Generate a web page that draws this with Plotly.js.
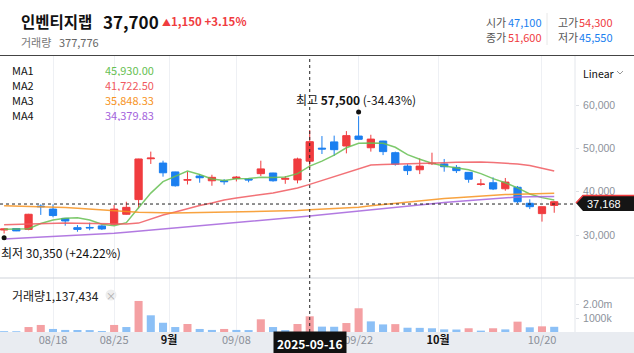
<!DOCTYPE html>
<html><head><meta charset="utf-8">
<script src="https://cdn.plot.ly/plotly-3.0.1.min.js"></script>
<style>html,body{margin:0;padding:0;background:#fff;overflow:hidden}#chart{width:634px;height:353px}</style>
</head><body><div id="chart"></div>
<script>
const dates = ['2025-08-11','2025-08-12','2025-08-13','2025-08-14','2025-08-18','2025-08-19','2025-08-20','2025-08-21','2025-08-22',
'2025-08-25','2025-08-26','2025-08-27','2025-08-28','2025-08-29','2025-09-01','2025-09-02','2025-09-03','2025-09-04','2025-09-05',
'2025-09-08','2025-09-09','2025-09-10','2025-09-11','2025-09-12','2025-09-15','2025-09-16','2025-09-17','2025-09-18','2025-09-19',
'2025-09-22','2025-09-23','2025-09-24','2025-09-25','2025-09-26','2025-09-29','2025-09-30','2025-10-01','2025-10-02','2025-10-10',
'2025-10-13','2025-10-14','2025-10-15','2025-10-16','2025-10-17','2025-10-20','2025-10-21'];
const openP  = [31150,31500,31300,36700,36000,33850,31700,31750,32100,32500,34800,38200,47650,46650,44600,42700,43650,42550,42550,43100,42950,44200,44350,42900,42750,47100,50100,51550,50600,52900,50200,51750,49050,45950,45100,46500,46450,45650,44500,41700,42100,40700,41050,37350,34950,36850];
const highP  = [31500,31550,34900,37100,37100,33900,32300,32850,32300,36950,37700,47650,49300,47200,44650,44600,44100,43950,42950,43650,43200,47200,44400,43650,47900,54300,52900,53000,54050,57500,53200,51800,49300,46400,47750,49050,47600,46200,44550,42950,43350,43200,41350,38250,36550,37900];
const lowP   = [30350,30900,31100,34650,34100,32150,30750,31100,31150,32400,34700,36200,46450,43500,41200,41700,42100,41400,41650,42400,42200,43650,42350,41850,41950,45550,48750,48300,48900,52000,49300,48500,46050,43900,44100,46200,44650,44350,42100,41400,40400,40250,37350,36000,33100,35150];
const closeP = [31400,30950,34800,36550,34500,33250,31300,31650,31400,36000,36400,47600,47800,44400,41400,42800,43250,43350,42350,43400,42750,45300,42550,43100,47600,51600,49900,49750,53000,52150,52200,49300,46400,44900,45950,46600,45800,44900,42900,41800,40650,42250,37700,36550,36550,37700];
const volume = [60000,55000,360000,510000,220000,150000,145000,140000,70000,510000,360000,2250000,1210000,670000,360000,580000,220000,150000,220000,150000,140000,920000,360000,140000,580000,1137434,390000,380000,650000,1720000,770000,550000,570000,310000,300000,270000,190000,180000,270000,100000,270000,190000,750000,340000,410000,377776];
const ma1 = [31320,31400,31460,32650,33450,33900,34000,33450,32480,32150,32850,36300,39700,42350,43600,44800,44000,42950,42600,43000,43070,43350,43300,43450,44200,45930,47100,48500,50200,51250,51300,51250,50300,48600,47550,46600,45950,45550,45100,44200,43050,42100,40900,39500,38650,38100];
const ma2 = [32400,32500,32600,32700,32750,32750,32700,32650,32550,32500,32550,32750,33700,34630,35320,36130,36830,37400,38100,38560,38900,39260,39720,40300,40880,41722.5,42620,43660,44580,45390,46200,46320,46370,46430,46480,46670,46730,46830,46900,46900,46780,46670,46430,46090,45510,44810];
const ma3 = [36750,36700,36650,36550,36450,36350,36200,36050,35850,35650,35450,35250,35150,35100,35100,35150,35200,35250,35300,35350,35400,35450,35500,35550,35650,35848.33,36000,36120,36250,36450,36750,37050,37400,37700,37950,38200,38450,38650,38850,39050,39200,39350,39450,39550,39600,39650];
const ma4 = [29050,29190,29330,29470,29610,29750,29890,30030,30170,30400,30640,30880,31120,31360,31610,31860,32120,32380,32640,32900,33150,33400,33650,33900,34140,34379.83,34680,34980,35280,35580,35880,36180,36480,36760,37050,37330,37550,37760,37980,38200,38420,38640,38800,38850,38880,38900];
const maNames = ['MA1','MA2','MA3','MA4'];
const stockName = '인벤티지랩';
const focusDate = '2025-09-16';
const crossPrice = 37168;
const xTickDates = ['2025-08-18','2025-08-25','2025-09-01','2025-09-08','2025-09-22','2025-10-01','2025-10-20'];
const xTickLabels = ['08/18','08/25','9월','09/08','09/22','10월','10/20'];
const priceTicks = [30000,40000,50000,60000];
const volTicks = [1000000,2000000];
const volTickLabels = ['1000k','2.00m'];

const W=634,H=353;
const px=x=>x/W, py=y=>(H-y)/H;
const RED='#f03c3f', BLUE='#1b7ff0';
const FONT='"Noto Sans CJK KR","Noto Sans",sans-serif';
const NUMFONT='"Liberation Sans",Arial,sans-serif';
const fmt=v=>Math.round(v).toLocaleString('en-US');
const fmt2=v=>v.toLocaleString('en-US',{minimumFractionDigits:2,maximumFractionDigits:2});
const idx = dates.map((d,i)=>i);
const n = dates.length;
const fi = dates.indexOf(focusDate);
const tickIdx = xTickDates.map((d,k)=>{const i=dates.indexOf(d); return xTickLabels[k].endsWith('월')? i-0.5 : i;});
const tickTxt = xTickLabels.map(t=>t.endsWith('월')?'<b><span style="color:#111">'+t+'</span></b>':t);
const maColors=['#66c052','#f0595f','#f7931e','#a463dc'];
const maVals=[ma1,ma2,ma3,ma4];

const traces=[];
maVals.forEach((m,k)=>traces.push({type:'scatter',mode:'lines',x:idx,y:m,xaxis:'x',yaxis:'y',line:{color:maColors[k],width:1.5},opacity:0.85,hoverinfo:'skip'}));
traces.push({type:'candlestick',x:idx,open:openP,high:highP,low:lowP,close:closeP,xaxis:'x',yaxis:'y',
  increasing:{line:{color:RED,width:1},fillcolor:RED},decreasing:{line:{color:BLUE,width:1},fillcolor:BLUE},whiskerwidth:0,hoverinfo:'skip'});
const volColors = volume.map((v,i)=> i>0 && v>volume[i-1] ? '#f4a0a3' : '#8cc0f6');
traces.push({type:'bar',x:idx,y:volume,xaxis:'x2',yaxis:'y2',marker:{color:volColors},width:0.66,hoverinfo:'skip'});

const last=n-1;
const chg = closeP[last]-closeP[last-1];
const chgPct = chg/closeP[last-1]*100;
const hiI = highP.indexOf(Math.max(...highP));
const loI = lowP.indexOf(Math.min(...lowP));
const hiPct = (closeP[last]/highP[hiI]-1)*100;
const loPct = (closeP[last]/lowP[loI]-1)*100;
const prevC = closeP[fi-1];
const colOf = v => v>=prevC?RED:BLUE;

const ann=[];
const A=(o)=>ann.push(Object.assign({xref:'paper',yref:'paper',showarrow:false,xanchor:'left',yanchor:'middle',font:{family:FONT,size:11,color:'#222'}},o));
A({x:px(19),y:py(21),text:'<b>'+stockName+'</b>',font:{family:FONT,size:15.5,color:'#111'}});
A({x:px(101),y:py(21),text:'<b>'+fmt(closeP[last])+'</b>',font:{family:FONT,size:17,color:'#111'}});
A({x:px(160),y:py(21),text:'<span style="font-size:9px">▲</span><b>'+fmt(chg)+' +'+chgPct.toFixed(2)+'%</b>',font:{family:FONT,size:11.5,color:RED}});
A({x:px(19),y:py(42),text:'거래량',font:{family:FONT,size:11,color:'#777'}});
A({x:px(57),y:py(42),text:fmt(volume[last]),font:{family:FONT,size:11,color:'#666'}});
A({x:px(484),y:py(22),text:'시가',font:{family:FONT,size:11,color:'#555'}});
A({x:px(506),y:py(22),text:fmt(openP[fi]),font:{family:FONT,size:11,color:colOf(openP[fi])}});
A({x:px(484),y:py(37),text:'종가',font:{family:FONT,size:11,color:'#555'}});
A({x:px(506),y:py(37),text:fmt(closeP[fi]),font:{family:FONT,size:11,color:colOf(closeP[fi])}});
A({x:px(556),y:py(22),text:'고가',font:{family:FONT,size:11,color:'#555'}});
A({x:px(577),y:py(22),text:fmt(highP[fi]),font:{family:FONT,size:11,color:colOf(highP[fi])}});
A({x:px(556),y:py(37),text:'저가',font:{family:FONT,size:11,color:'#555'}});
A({x:px(577),y:py(37),text:fmt(lowP[fi]),font:{family:FONT,size:11,color:colOf(lowP[fi])}});
maNames.forEach((nm,k)=>{
  const yy=py(70+14.8*k);
  A({x:px(10),y:yy,text:nm,height:13,font:{family:FONT,size:11,color:'#111'}});
  A({x:px(156),y:yy,xanchor:'right',height:13,text:fmt2(maVals[k][fi]),font:{family:FONT,size:11,color:maColors[k]}});
});
A({x:px(581),y:py(73),text:'Linear',font:{family:FONT,size:10.5,color:'#111'}});
A({x:px(10),y:py(295),text:'거래량'+fmt(volume[fi]),font:{family:FONT,size:12,color:'#222'}});
A({x:px(111),y:py(295),xanchor:'center',text:'×',font:{family:FONT,size:10,color:'#aaa'}});
A({x:px(585),y:py(203.5),text:fmt(crossPrice),height:11,font:{family:NUMFONT,size:11,color:'#fff'}});
ann.push({xref:'x',yref:'y',x:hiI,y:highP[hiI],showarrow:false,xanchor:'center',yanchor:'middle',xshift:-3,yshift:17,
  text:'최고 <b>'+fmt(highP[hiI])+'</b> ('+hiPct.toFixed(2)+'%)',font:{family:FONT,size:12,color:'#111'}});
ann.push({xref:'x',yref:'y',x:loI,y:lowP[loI],showarrow:false,xanchor:'left',yanchor:'middle',xshift:-5,yshift:-19,
  text:'최저 '+fmt(lowP[loI])+' (+'+loPct.toFixed(2)+'%)',font:{family:FONT,size:12,color:'#111'}});
ann.push({xref:'x2',yref:'paper',x:fi,y:py(343),showarrow:false,xanchor:'center',yanchor:'middle',
  text:'<b>'+focusDate+'</b>',bgcolor:'#111',borderpad:3,font:{family:FONT,size:12,color:'#fff'}});

const shapes=[
 {type:'rect',xref:'paper',yref:'paper',x0:0,x1:1,y0:0,y1:py(332),fillcolor:'#e9ecf1',line:{width:0},layer:'below'},
 {type:'line',xref:'paper',yref:'paper',x0:0,x1:1,y0:py(55.5),y1:py(55.5),line:{color:'#444',width:1}},
 {type:'line',xref:'paper',yref:'paper',x0:0,x1:1,y0:py(278),y1:py(278),line:{color:'#cfd3da',width:1}},
 {type:'line',xref:'paper',yref:'paper',x0:px(575),x1:px(575),y0:py(332),y1:py(56),line:{color:'#e3e6eb',width:1}},
 {type:'line',xref:'paper',yref:'paper',x0:px(547),x1:px(547),y0:py(13),y1:py(45),line:{color:'#e8e8e8',width:1}},
 {type:'line',xref:'x',yref:'paper',x0:fi,x1:fi,y0:py(332),y1:py(57),line:{color:'#222',width:1,dash:'dot'}},
 {type:'line',xref:'paper',yref:'y',x0:0,x1:px(575),y0:crossPrice,y1:crossPrice,line:{color:'#222',width:1,dash:'dot'}},
 {type:'path',xref:'paper',yref:'paper',path:`M${px(576)},${py(203)} L${px(583)},${py(195)} L${px(634)},${py(195)} L${px(634)},${py(211)} L${px(583)},${py(211)} Z`,fillcolor:'#151515',line:{width:0}},
 {type:'path',xref:'paper',yref:'paper',path:`M${px(576)},${py(203)} L${px(583)},${py(195.5)} L${px(634)},${py(195.5)}`,line:{color:RED,width:1.5}},
 {type:'path',xref:'paper',yref:'paper',path:`M${px(617)},${py(71)} L${px(620)},${py(74)} L${px(623)},${py(71)}`,line:{color:'#999',width:1}},
 {type:'circle',xref:'paper',yref:'paper',x0:px(105.5),x1:px(116.5),y0:py(300.5),y1:py(289.5),fillcolor:'#eeeeee',line:{width:0},layer:'below'},
 {type:'circle',xref:'x',yref:'y',xsizemode:'pixel',ysizemode:'pixel',xanchor:hiI,yanchor:highP[hiI],x0:-2.5,x1:2.5,y0:1.7,y1:6.7,fillcolor:'#111',line:{width:0}},
 {type:'circle',xref:'x',yref:'y',xsizemode:'pixel',ysizemode:'pixel',xanchor:loI,yanchor:lowP[loI],x0:-2.5,x1:2.5,y0:-6.7,y1:-1.7,fillcolor:'#111',line:{width:0}}
];

const xr=[-0.335,46.7];
const layout={width:W,height:H,margin:{l:0,r:0,t:0,b:0},paper_bgcolor:'#fff',plot_bgcolor:'#fff',showlegend:false,hovermode:false,
 boxgap:0.3,boxgroupgap:0.15,bargap:0.3,
 font:{family:FONT},
 xaxis:{domain:[0,575/W],range:xr,anchor:'y',showticklabels:false,tickvals:tickIdx,showgrid:true,gridcolor:'#eef0f4',zeroline:false,showline:false,ticks:'',rangeslider:{visible:false},fixedrange:true},
 xaxis2:{domain:[0,575/W],range:xr,anchor:'y2',matches:'x',tickvals:tickIdx,ticktext:tickTxt,showgrid:true,gridcolor:'#eef0f4',zeroline:false,showline:false,ticks:'',tickfont:{family:FONT,size:11,color:'#8b9099'},fixedrange:true},
 yaxis:{domain:[py(278),py(55)],range:[20046,71667],side:'right',anchor:'x',tickvals:priceTicks,tickformat:',d',showgrid:false,zeroline:false,showline:false,ticks:'outside',ticklen:3,tickcolor:'#dde0e5',ticklabelstandoff:2,tickfont:{family:NUMFONT,size:10.5,color:'#8d929b'},fixedrange:true},
 yaxis2:{domain:[py(332),py(278)],range:[0,3913000],side:'right',anchor:'x2',tickvals:volTicks,ticktext:volTickLabels,showgrid:false,zeroline:false,showline:false,ticks:'outside',ticklen:3,tickcolor:'#dde0e5',ticklabelstandoff:2,tickfont:{family:NUMFONT,size:10.5,color:'#8d929b'},fixedrange:true},
 annotations:ann,shapes:shapes};
Plotly.newPlot('chart',traces,layout,{staticPlot:true,displayModeBar:false});
</script></body></html>
